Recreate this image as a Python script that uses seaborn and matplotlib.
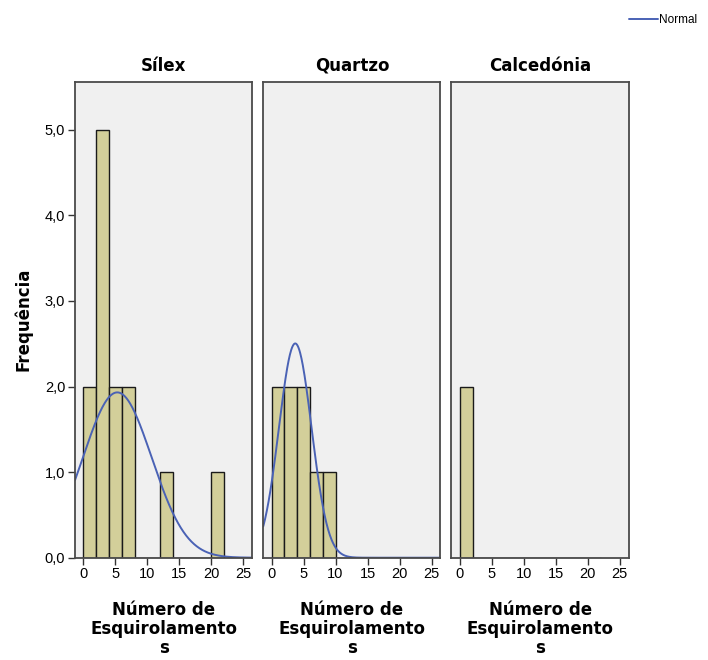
import numpy as np
import pandas as pd
import matplotlib
matplotlib.use("Agg")
import matplotlib.pyplot as plt
import seaborn as sns
from matplotlib.lines import Line2D

materials = ["Sílex", "Quartzo", "Calcedónia"]
bin_edges = [0, 2, 4, 6, 8, 10, 12, 14, 16, 18, 20, 22]
counts_silex = [2, 5, 2, 2, 0, 0, 1, 0, 0, 0, 1]
counts_quartzo = [2, 2, 2, 1, 1, 0, 0, 0, 0, 0, 0]
counts_calcedonia = [2, 0, 0, 0, 0, 0, 0, 0, 0, 0, 0]
normal_mean = [5.3, 3.7, None]
normal_sd = [5.37, 2.55, None]
yticks = [0, 1, 2, 3, 4, 5]
xticks = [0, 5, 10, 15, 20, 25]

sns.set_theme(style="white")
plt.rcParams['font.family'] = ['DejaVu Sans']
plt.rcParams['text.color'] = 'black'
plt.rcParams['axes.labelcolor'] = 'black'
plt.rcParams['xtick.color'] = 'black'
plt.rcParams['ytick.color'] = 'black'

all_counts = [counts_silex, counts_quartzo, counts_calcedonia]
mids = [(a + b) / 2 for a, b in zip(bin_edges[:-1], bin_edges[1:])]
rows = []
for m, cs in zip(materials, all_counts):
    for x, c in zip(mids, cs):
        rows.append({"material": m, "x": x, "count": c})
df = pd.DataFrame(rows)

fig, axes = plt.subplots(1, 3, figsize=(7.08, 6.6), dpi=100, sharey=True)
fig.subplots_adjust(left=0.106, right=0.888, top=0.876, bottom=0.155, wspace=0.062)

bar_color = "#d3cf9a"
curve_color = "#4a62b5"
tick_font = "Liberation Sans"
for i, (ax, m) in enumerate(zip(axes, materials)):
    sub = df[df["material"] == m]
    sns.histplot(data=sub, x="x", weights="count", bins=bin_edges, ax=ax,
                 color=bar_color, edgecolor="#1a1a1a", linewidth=1.0, alpha=1.0)
    ax.set_facecolor("#f0f0f0")
    if normal_mean[i] is not None:
        n = sum(all_counts[i])
        bw = bin_edges[1] - bin_edges[0]
        xs = np.linspace(-1.3, 26.4, 400)
        ys = n * bw / (normal_sd[i] * np.sqrt(2 * np.pi)) * np.exp(-0.5 * ((xs - normal_mean[i]) / normal_sd[i]) ** 2)
        sns.lineplot(x=xs, y=ys, ax=ax, color=curve_color, linewidth=1.4)
    ax.set_xlim(-1.3, 26.4)
    ax.set_ylim(0, 5.56)
    ax.set_xticks(xticks)
    ax.set_xticklabels([str(t) for t in xticks], fontsize=10.5, family=tick_font)
    ax.set_yticks(yticks)
    ax.set_yticklabels([f"{t:.1f}".replace(".", ",") for t in yticks], fontsize=10.5, family=tick_font)
    ax.set_title(m, fontsize=12, fontweight="bold", pad=8, color="black")
    ax.set_xlabel("Número de\nEsquirolamento\ns", fontsize=12, fontweight="bold",
                  linespacing=1.08, labelpad=14)
    ax.set_ylabel("")
    for s in ax.spines.values():
        s.set_visible(True)
        s.set_color("#4a4a4a")
        s.set_linewidth(1.3)
    ax.tick_params(axis="x", which="both", bottom=True, direction="out", length=5,
                   width=1, color="#333333", pad=2)
    if i == 0:
        ax.tick_params(axis="y", left=True, direction="out", length=5, width=1, color="#333333", pad=2)
    else:
        ax.tick_params(axis="y", left=False)

axes[0].set_ylabel("Frequência", fontsize=12, fontweight="bold", labelpad=9)

handle = Line2D([0], [0], color=curve_color, linewidth=1.4)
fig.legend([handle], ["Normal"], loc="upper right", bbox_to_anchor=(1.0, 0.995),
           frameon=False, prop={"family": tick_font, "size": 8.5},
           handlelength=2.5, handletextpad=0.1)

fig.savefig("out.png", dpi=100)
